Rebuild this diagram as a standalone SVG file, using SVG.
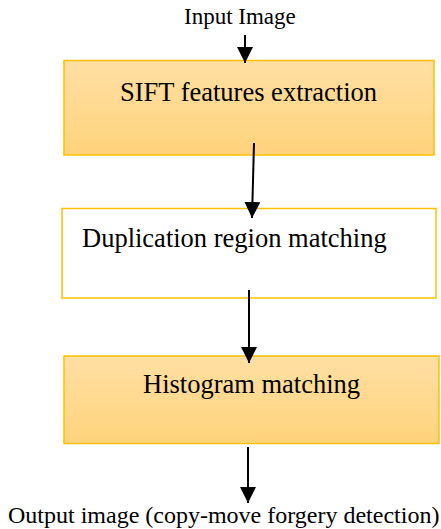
<svg xmlns="http://www.w3.org/2000/svg" width="441" height="529" viewBox="0 0 441 529">
<style>
.box{stroke:#ffc000;stroke-width:1.5}
.fill{fill:url(#g)}
.white{fill:#ffffff}
.t{font-family:"Liberation Serif","Times New Roman",serif;fill:#000}
.bt{font-size:26.5px}
.lt{font-size:23px}
.ot{font-size:24px}
.c{stroke:#000;stroke-width:2;fill:none;marker-end:url(#ah)}
</style>
<defs>
<linearGradient id="g" x1="0" y1="0" x2="0" y2="1">
<stop offset="0" stop-color="#ffdfa3"/>
<stop offset="1" stop-color="#ffd37c"/>
</linearGradient>
<marker id="ah" markerUnits="userSpaceOnUse" markerWidth="16" markerHeight="16" refX="15" refY="7.5" orient="auto" viewBox="0 0 15 15">
<path d="M0,0 L15,7.5 L0,15 z" fill="#000"/>
</marker>
</defs>
<rect width="441" height="529" fill="#fff"/>
<g id="input-label"><text class="t lt" x="184" y="24">Input Image</text></g>
<g id="sift"><rect class="box fill" x="64" y="60.5" width="370" height="94.5"/><text class="t bt" x="120" y="101">SIFT features extraction</text></g>
<g id="duplication"><rect class="box white" x="62" y="208.5" width="374" height="89.5"/><text class="t bt" x="82" y="247">Duplication region matching</text></g>
<g id="histogram"><rect class="box fill" x="64" y="356" width="375" height="87.5"/><text class="t bt" x="143" y="393">Histogram matching</text></g>
<g id="output-label"><text class="t ot" x="8" y="523">Output image (copy-move forgery detection)</text></g>
<g id="connectors">
<line class="c" x1="245" y1="35" x2="245" y2="63"/>
<line class="c" x1="254" y1="143" x2="252" y2="218"/>
<line class="c" x1="249" y1="290" x2="249" y2="363"/>
<line class="c" x1="248" y1="447" x2="248" y2="503"/>
</g>
</svg>
